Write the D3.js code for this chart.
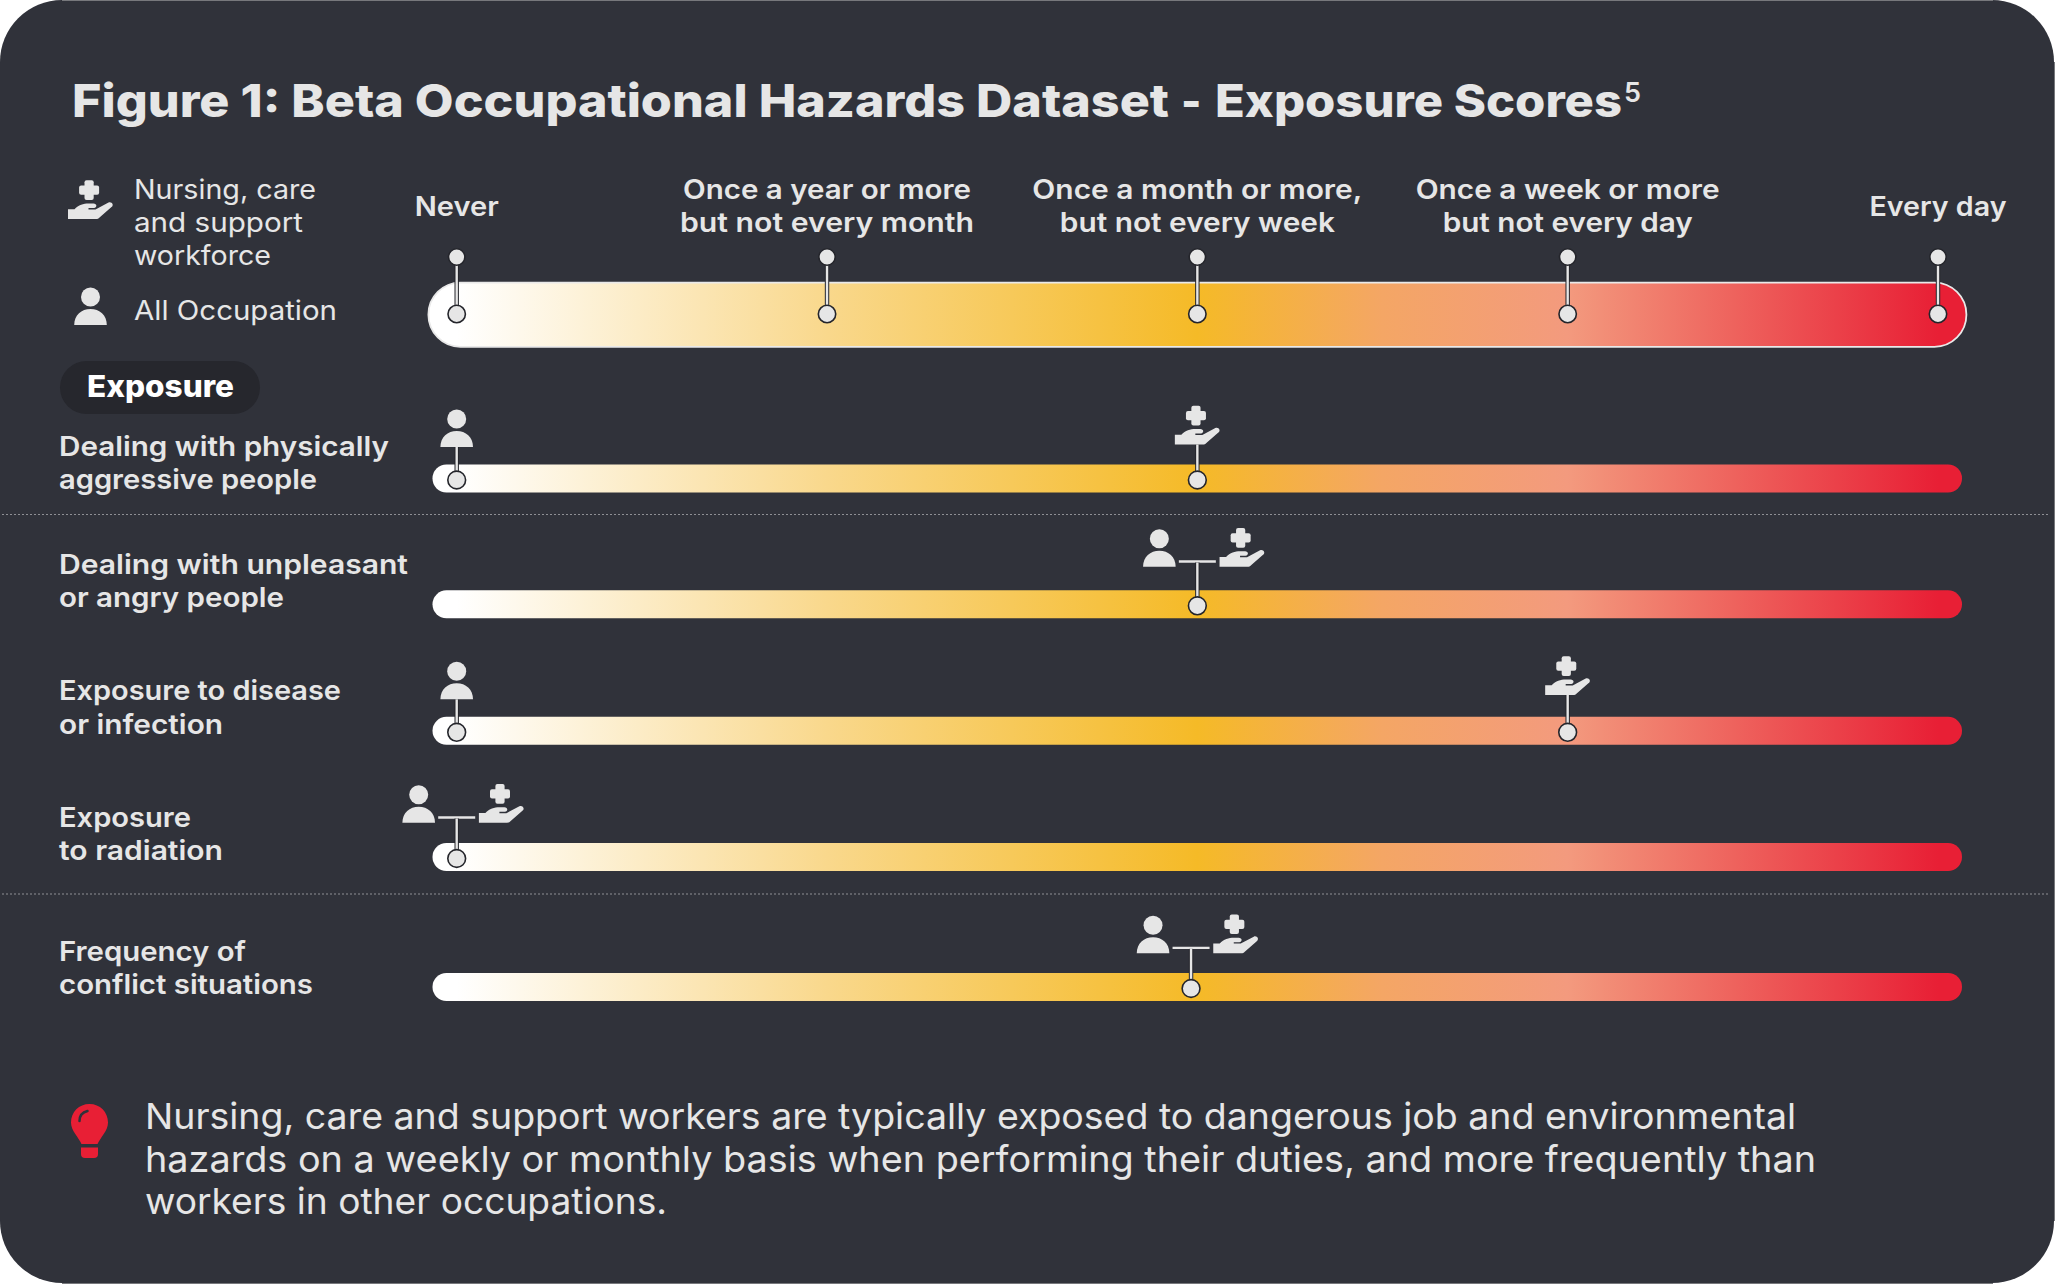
<!DOCTYPE html>
<html><head><meta charset="utf-8">
<script src="https://cdn.jsdelivr.net/npm/d3@7"></script>
<style>html,body{margin:0;padding:0;background:#fff}svg{display:block}</style>
</head><body><svg id="chart" width="2055" height="1284"></svg>
<script>
// ---- data ----
const titleParts = ["Figure 1: Beta Occupational Hazards Dataset ", "- ", "Exposure Scores"];
const titleStarts = [72, 1181, 1215];
const titleWidths = [1108, 30, 407];
const scaleLevels = [0, 1, 2, 3, 4];
const scaleLabels = [["Never"], ["Once a year or more", "but not every month"], ["Once a month or more,", "but not every week"], ["Once a week or more", "but not every day"], ["Every day"]];
const scaleLabelWidths = [[84], [288, 294], [330, 275], [304, 250], [137]];
const hazards = [["Dealing with physically", "aggressive people"], ["Dealing with unpleasant", "or angry people"], ["Exposure to disease", "or infection"], ["Exposure", "to radiation"], ["Frequency of", "conflict situations"]];
const hazardLabelWidths = [[330, 258], [349, 225], [282, 164], [132, 164], [187, 254]];
const allOccupation = [0, 2, 0, 0, 1.983];
const nursingCare = [2, 2, 3, 0, 1.983];
const gradientStops = [[0, "#ffffff"], [0.25, "#f9d88c"], [0.5, "#f5ba27"], [0.625, "#f4a665"], [0.75, "#f39a7e"], [1, "#e81f35"]];
const insightLines = ["Nursing, care and support workers are typically exposed to dangerous job and environmental", "hazards on a weekly or monthly basis when performing their duties, and more frequently than", "workers in other occupations."];
const insightWidths = [1651, 1671, 522];
const legendLines = ["Nursing, care", "and support", "workforce"];
const legendWidths = [182, 169, 137];

const FONT = "Inter";
const INK = "#e6e6e6", PANEL = "#30323a", EDGE = "#77787c";
const svg = d3.select("#chart");
const x = d3.scaleLinear().domain([0, 4]).range([456.7, 1938]);
const rowCentres = [478.5, 604.3, 730.8, 857, 987];
const labelBaselines = [[456, 488.5], [574, 607], [700, 733.5], [827, 860], [960.6, 993.6]];
const joinHeights = [44, 44.3, 44, 41, 40.6];
const personGaps = [33, 33, 33, 33, 33];
const handGaps = [35.5, 37, 37.3, 37, 37];

function txt(s, px, py, size, weight, width, opts = {}) {
  const t = svg.append("text").attr("x", px).attr("y", py).attr("font-family", FONT)
    .attr("font-size", size).attr("font-weight", weight).attr("fill", opts.fill || INK)
    .attr("text-anchor", opts.anchor || "start").text(s);
  if (width) t.attr("textLength", width).attr("lengthAdjust", "spacingAndGlyphs");
  return t;
}

// panel
svg.append("rect").attr("x", 0).attr("y", 0).attr("width", 2054).attr("height", 1283)
  .attr("rx", 62).attr("fill", PANEL);
[[62, 0.5, 1993, 0.5], [2054.5, 62, 2054.5, 1221], [62, 1283.5, 1993, 1283.5]].forEach(([a, b, c, d]) =>
  svg.append("line").attr("x1", a).attr("y1", b).attr("x2", c).attr("y2", d).attr("stroke", EDGE).attr("stroke-width", 1));

// gradients
const defs = svg.append("defs");
const grad = defs.append("linearGradient").attr("id", "heat").attr("gradientUnits", "userSpaceOnUse")
  .attr("x1", x(0)).attr("x2", x(4)).attr("y1", 0).attr("y2", 0);
gradientStops.forEach(([o, c]) => grad.append("stop").attr("offset", o).attr("stop-color", c));

// icons, drawn around the bottom-centre of the glyph
function person(g, cx, bottom) {
  const a = g.append("g").attr("transform", `translate(${cx},${bottom})`).attr("fill", INK);
  a.append("circle").attr("cx", 0).attr("cy", -28).attr("r", 9.5);
  a.append("path").attr("d", "M-16.3,0 C-16.3,-10 -9,-16 0,-16 C9,-16 16.3,-10 16.3,0 Z");
}
function hand(g, cx, bottom) {
  const a = g.append("g").attr("transform", `translate(${cx},${bottom})`).attr("fill", INK);
  a.append("rect").attr("x", -6).attr("y", -38.7).attr("width", 9.2).attr("height", 19.6).attr("rx", 2);
  a.append("rect").attr("x", -11.4).attr("y", -33.5).attr("width", 20).attr("height", 9.3).attr("rx", 2);
  a.append("path").attr("d", "M-22.5,0 V-9.7 H-16 C-12,-14 -7,-15.5 -2,-15.5 H3 C6.5,-15.5 7,-11.5 3.5,-11 H-2 V-9.6 H5 L18,-16.5 C21,-18 24,-14 21,-12 L9,-1.5 C8,-0.5 7,0 5.5,0 Z");
}
function dot(px, py, r) {
  svg.append("circle").attr("cx", px).attr("cy", py).attr("r", r)
    .attr("fill", INK).attr("stroke", "#24252b").attr("stroke-width", 1.6);
}
function stem(px, y1, y2) {
  svg.append("line").attr("x1", px).attr("x2", px).attr("y1", y1).attr("y2", y2).attr("stroke", "#24252b").attr("stroke-width", 4.4);
  svg.append("line").attr("x1", px).attr("x2", px).attr("y1", y1).attr("y2", y2).attr("stroke", INK).attr("stroke-width", 2.4);
}

// title
const title = svg.append("text").attr("y", 117).attr("font-family", FONT).attr("font-size", 45.5)
  .attr("font-weight", 800).attr("fill", INK).attr("xml:space", "preserve");
titleParts.forEach((s, i) => title.append("tspan").attr("x", titleStarts[i])
  .attr("textLength", titleWidths[i]).attr("lengthAdjust", "spacingAndGlyphs").text(s));
txt("5", 1624, 102, 27, 600, 17);

// legend
const legendY = [199, 232, 265];
legendLines.forEach((s, i) => txt(s, 134, legendY[i], 27, 400, legendWidths[i]));
txt("All Occupation", 134, 320, 27, 400, 203);
hand(svg, 90.5, 219);
person(svg, 90.5, 325);

// scale header
scaleLabels.forEach((lines, i) => {
  const ys = lines.length === 1 ? [216] : [199, 232];
  lines.forEach((s, j) => txt(s, x(scaleLevels[i]), ys[j], 27, 600, scaleLabelWidths[i][j], { anchor: "middle" }));
});

const hdr = { x0: 428.4, x1: 1966.4, y0: 282.6, y1: 346.8 };
svg.append("rect").attr("x", hdr.x0).attr("y", hdr.y0).attr("width", hdr.x1 - hdr.x0).attr("height", hdr.y1 - hdr.y0)
  .attr("rx", 32).attr("fill", "url(#heat)").attr("stroke", "#e9e9e9").attr("stroke-width", 1.8);
scaleLevels.forEach(v => {
  stem(x(v), 257, 314);
  dot(x(v), 257, 8.2);
  dot(x(v), 314, 8.7);
});

// Exposure pill
svg.append("rect").attr("x", 60).attr("y", 361).attr("width", 200).attr("height", 53).attr("rx", 26.5).attr("fill", "#26272d");
txt("Exposure", 87, 397, 30, 800, 147, { fill: "#ffffff" });

// dotted separators
[514.5, 894].forEach(y => svg.append("line").attr("x1", 2).attr("x2", 2049).attr("y1", y).attr("y2", y)
  .attr("stroke", "#8e8f94").attr("stroke-width", 1).attr("stroke-dasharray", "2 2"));

// rows
hazards.forEach((lines, i) => {
  const c = rowCentres[i];
  lines.forEach((s, j) => txt(s, 59, labelBaselines[i][j], 27.5, 600, hazardLabelWidths[i][j]));
  svg.append("rect").attr("x", 432.5).attr("y", c - 14).attr("width", 1962 - 432.5).attr("height", 28)
    .attr("rx", 14).attr("fill", "url(#heat)");
  const a = allOccupation[i], n = nursingCare[i], dy = c + 1.5;
  if (a === n) {
    const px = x(a), barY = dy - joinHeights[i];
    svg.append("line").attr("x1", px - 18.5).attr("x2", px + 18.5).attr("y1", barY).attr("y2", barY).attr("stroke", INK).attr("stroke-width", 2.4);
    stem(px, barY + 1, dy);
    person(svg, px - 38, barY + 5.3);
    hand(svg, px + 44.7, barY + 5.3);
    dot(px, dy, 8.9);
  } else {
    [[a, person, personGaps[i]], [n, hand, handGaps[i]]].forEach(([v, icon, gap]) => {
      const px = x(v);
      stem(px, dy - gap, dy);
      icon(svg, px, dy - gap);
      dot(px, dy, 8.9);
    });
  }
});

// insight
const by = [1129, 1172, 1214];
insightLines.forEach((s, i) => txt(s, 145, by[i], 36, 400, insightWidths[i]));
const bulb = svg.append("g").attr("transform", "translate(89.5,1104)").attr("fill", "#e81f35");
bulb.append("path").attr("d", "M0,0 C10.5,0 18.5,8 18.5,18.5 C18.5,27 11,33 8,40 H-8 C-11,33 -18.5,27 -18.5,18.5 C-18.5,8 -10.5,0 0,0 Z");
bulb.append("path").attr("d", "M-8.5,43.5 H8.5 V50 Q8.5,54 4.5,54 H-4.5 Q-8.5,54 -8.5,50 Z");
bulb.append("path").attr("d", "M-10,17 C-10,11 -6,8 -2,7").attr("fill", "none").attr("stroke", PANEL).attr("stroke-width", 2.5).attr("stroke-linecap", "round");
</script></body></html>
